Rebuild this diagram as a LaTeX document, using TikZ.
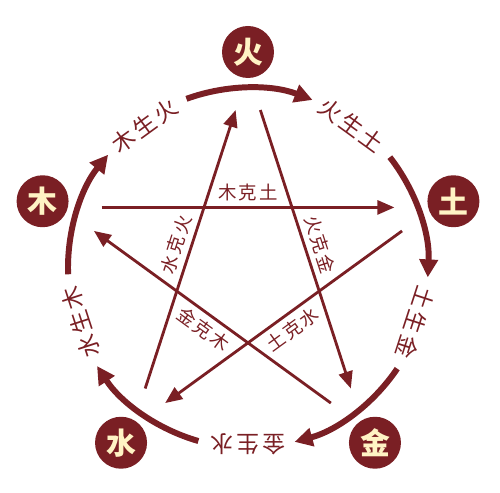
\documentclass[tikz,border=0pt]{standalone}
\usepackage{fontspec}
\newfontfamily\cjk{Noto Sans CJK SC}
\newfontfamily\cjkwide[LetterSpace=12]{Noto Sans CJK SC}
\usepackage{tikz}
\usetikzlibrary{arrows.meta, calc}
\definecolor{wxred}{RGB}{122,31,36}
\definecolor{wxcream}{RGB}{255,243,196}

\begin{document}
\begin{tikzpicture}[x=0.02cm, y=0.02cm,
    elem/.style={circle, fill=wxred, text=wxcream, minimum size=1.04cm,
      inner sep=0pt, font=\cjk\bfseries\fontsize{17}{17}\selectfont},
    sheng/.style={line width=3.4pt, wxred,
      -{Triangle[length=0.36cm, width=0.36cm]}},
    ke/.style={line width=1.6pt, wxred,
      -{Triangle[length=0.34cm, width=0.28cm]},
      shorten <=0.8cm, shorten >=0.8cm},
    shenglabel/.style={text=wxred, inner sep=0pt,
      font=\cjkwide\fontsize{13}{13}\selectfont},
    kelabel/.style={text=wxred, inner sep=3pt,
      font=\cjkwide\fontsize{10.5}{10.5}\selectfont}
    ]
    \useasboundingbox (0,0) rectangle (500,493);
    \coordinate (c) at (248,225);
    \foreach \name/\ang/\ch/\lbl in {huo/90/火/火生土, tu/18/土/土生金,
        jin/-54/金/金生水, shui/-126/水/水生木, mu/162/木/木生火} {
      \node[elem] (\name) at ($(c)+(\ang:216)$) {\ch};
      \coordinate (v-\name) at ($(c)+(\ang:196)$);
      \draw[sheng] ($(c)+({\ang+20}:180)$)
        arc[start angle=\ang+20, end angle=\ang-21, radius=180];
      \node[shenglabel, rotate=\ang-126] (s-\name)
        at ($(c)+({\ang-36}:176)$) {\lbl};
    }
    \draw[ke] (v-mu) -- (v-tu)
      node[kelabel, midway, above, sloped] {木克土};
    \draw[ke] (v-tu) -- (v-shui)
      node[kelabel, midway, below, sloped] {土克水};
    \draw[ke] (v-shui) -- (v-huo)
      node[kelabel, midway, above, sloped] {水克火};
    \draw[ke] (v-huo) -- (v-jin)
      node[kelabel, midway, above, sloped] {火克金};
    \draw[ke] (v-jin) -- (v-mu)
      node[kelabel, midway, below, sloped] {金克木};
\end{tikzpicture}
\end{document}
